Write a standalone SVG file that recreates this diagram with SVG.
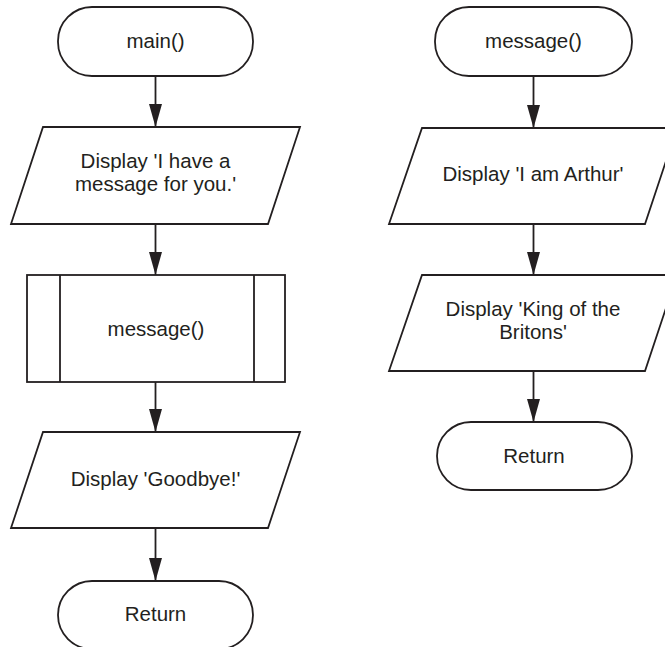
<svg xmlns="http://www.w3.org/2000/svg" width="665" height="647" viewBox="0 0 665 647">
<defs>
<style>
.s{fill:#fff;stroke:#231f20;stroke-width:1.8;stroke-linejoin:miter}
.t{font-family:"Liberation Sans",Arial,Helvetica,sans-serif;font-size:20.5px;fill:#231f20;text-anchor:middle}
.c{stroke:#231f20;stroke-width:1.8;fill:none}
</style>
<marker id="ah" markerUnits="userSpaceOnUse" markerWidth="23" markerHeight="13" refX="23" refY="6.5" orient="auto" viewBox="0 0 23 13">
<path d="M0,0 L23,6.5 L0,13 Z" fill="#231f20"/>
</marker>
</defs>
<rect width="665" height="647" fill="#fff"/>
<g id="main">
<rect class="s" x="58" y="7" width="195" height="69" rx="34" ry="34"/>
<text class="t" x="155.5" y="48">main()</text>
</g>
<g id="display1">
<polygon class="s" points="43,127 300,127 268,224 11,224"/>
<text class="t" x="155.5" y="168">Display 'I have a</text>
<text class="t" x="155.5" y="191">message for you.'</text>
</g>
<g id="call">
<rect class="s" x="27" y="275" width="258" height="107"/>
<line class="s" x1="60" y1="275" x2="60" y2="382"/>
<line class="s" x1="254" y1="275" x2="254" y2="382"/>
<text class="t" x="156" y="335.5">message()</text>
</g>
<g id="display2">
<polygon class="s" points="43,432 300,432 268,528 11,528"/>
<text class="t" x="155.5" y="486">Display 'Goodbye!'</text>
</g>
<g id="return1">
<rect class="s" x="58" y="581" width="195" height="68" rx="34" ry="34"/>
<text class="t" x="155.5" y="620.5">Return</text>
</g>
<g id="message">
<rect class="s" x="435" y="7" width="197" height="69" rx="34" ry="34"/>
<text class="t" x="533.5" y="48">message()</text>
</g>
<g id="display3">
<polygon class="s" points="422,128 677,128 645,224 389,224"/>
<text class="t" x="533" y="181">Display 'I am Arthur'</text>
</g>
<g id="display4">
<polygon class="s" points="422,275 677,275 645,371 389,371"/>
<text class="t" x="533" y="316">Display 'King of the</text>
<text class="t" x="533" y="339">Britons'</text>
</g>
<g id="return2">
<rect class="s" x="437" y="422" width="195" height="68" rx="34" ry="34"/>
<text class="t" x="534" y="463">Return</text>
</g>
<g id="connectors">
<line class="c" x1="155.5" y1="76" x2="155.5" y2="127" marker-end="url(#ah)"/>
<line class="c" x1="155.5" y1="224" x2="155.5" y2="275" marker-end="url(#ah)"/>
<line class="c" x1="155.5" y1="382" x2="155.5" y2="432" marker-end="url(#ah)"/>
<line class="c" x1="155.5" y1="528" x2="155.5" y2="581" marker-end="url(#ah)"/>
<line class="c" x1="533.5" y1="76" x2="533.5" y2="128" marker-end="url(#ah)"/>
<line class="c" x1="533.5" y1="224" x2="533.5" y2="275" marker-end="url(#ah)"/>
<line class="c" x1="533.5" y1="371" x2="533.5" y2="422" marker-end="url(#ah)"/>
</g>
</svg>
